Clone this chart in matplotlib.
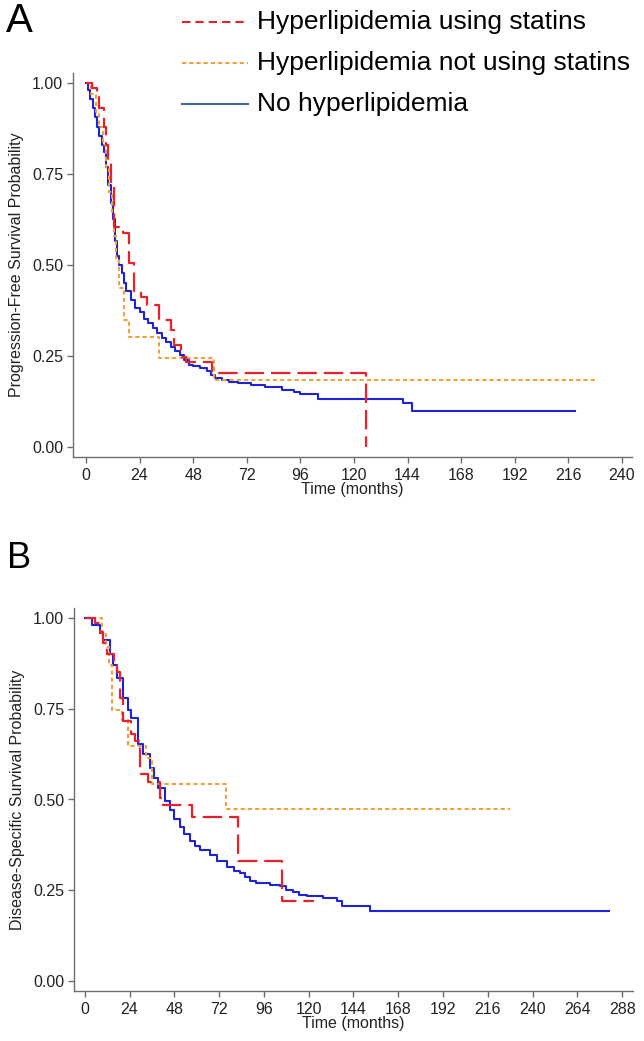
import numpy as np
import matplotlib
matplotlib.use("Agg")
import matplotlib.pyplot as plt
from matplotlib.lines import Line2D

plt.rcParams['font.family'] = ['Liberation Sans', 'DejaVu Sans']
plt.rcParams['lines.scale_dashes'] = False

# ---- panel A : progression-free survival (months, probability) ----
a_statin_t = [0, 2.5, 5, 6, 8, 9, 10, 11, 12.5, 16.5, 19.2, 21.5, 24.6, 27.5, 32.8, 38, 39.5, 42.5, 44.7, 56.6, 125.6]
a_statin_s = [1.0, 0.986, 0.96, 0.93, 0.88, 0.83, 0.78, 0.72, 0.604, 0.588, 0.505, 0.43, 0.412, 0.39, 0.349, 0.321, 0.28, 0.247, 0.233, 0.203, 0.0]
a_statin_end = 125.6

a_nostatin_t = [0, 2.2, 4.5, 6, 7.5, 9, 10.5, 11.5, 12.5, 13.5, 14.7, 17, 19.2, 32.8, 57.2]
a_nostatin_s = [1.0, 0.97, 0.92, 0.88, 0.83, 0.77, 0.70, 0.64, 0.58, 0.52, 0.436, 0.349, 0.302, 0.244, 0.184]
a_nostatin_end = 228

a_nohl_t = [0, 1, 2, 3, 4, 5, 6, 7, 8, 9, 10, 11, 12, 13, 14, 15, 16, 17, 18, 20, 22, 24, 26, 28,
            30, 32, 34, 36, 38, 40, 42, 44, 46, 48, 51, 54, 56, 58, 61, 64, 68, 74, 80, 88, 93,
            96, 104, 142, 146]
a_nohl_s = [1.0, 0.98, 0.955, 0.93, 0.905, 0.88, 0.855, 0.83, 0.81, 0.77, 0.72, 0.67, 0.625, 0.565,
            0.525, 0.5, 0.478, 0.45, 0.43, 0.405, 0.383, 0.37, 0.352, 0.34, 0.328, 0.313, 0.3,
            0.288, 0.276, 0.264, 0.252, 0.238, 0.226, 0.222, 0.218, 0.208, 0.198, 0.19, 0.183,
            0.178, 0.175, 0.17, 0.165, 0.157, 0.152, 0.146, 0.132, 0.121, 0.10]
a_nohl_end = 219

# ---- panel B : disease-specific survival ----
b_statin_t = [0, 5.4, 8, 10, 12, 15.5, 17, 19, 20.4, 25, 27, 29.5, 33.8, 40.5, 42, 57.4, 82, 105.6]
b_statin_s = [1.0, 0.986, 0.96, 0.93, 0.90, 0.868, 0.85, 0.78, 0.717, 0.68, 0.66, 0.571, 0.547, 0.505, 0.484, 0.453, 0.332, 0.222]
b_statin_end = 123

b_nostatin_t = [0, 9, 11.5, 13, 14.5, 19.8, 23, 33, 36, 75.8]
b_nostatin_s = [1.0, 0.956, 0.92, 0.87, 0.745, 0.72, 0.648, 0.615, 0.544, 0.475]
b_nostatin_end = 228

b_nohl_t = [0, 4, 8, 10, 13.4, 15, 17, 20.4, 23, 25, 28.6, 31, 34.9, 37, 39.3, 42.9, 45.6, 48, 50.9,
            53, 56.3, 59, 61.7, 67, 71, 76, 80, 83, 86, 88.5, 92, 99, 104.6, 108, 111.5, 115, 119,
            127.6, 135, 137.8, 153]
b_nohl_s = [1.0, 0.98, 0.959, 0.94, 0.90, 0.87, 0.835, 0.78, 0.745, 0.725, 0.654, 0.625, 0.588, 0.56,
            0.533, 0.497, 0.47, 0.446, 0.423, 0.405, 0.387, 0.372, 0.36, 0.346, 0.33, 0.313, 0.303,
            0.297, 0.286, 0.277, 0.27, 0.266, 0.261, 0.25, 0.245, 0.236, 0.234, 0.228, 0.221, 0.206, 0.192]
b_nohl_end = 281

labels = ["Hyperlipidemia using statins", "Hyperlipidemia not using statins", "No hyperlipidemia"]
c_red = '#E8222A'
c_orange = '#EFA23C'
c_blue = '#1E22D8'
c_blue_leg = '#4563AE'
spine_col = '#6E6E6E'
txt_col = '#222222'

W, H = 644, 1041
fig = plt.figure(figsize=(W / 100, H / 100), dpi=100)
axA = fig.add_axes([73 / W, 1 - 457 / H, (632 - 73) / W, (457 - 73) / H])
axB = fig.add_axes([74 / W, 1 - 991 / H, (633 - 74) / W, (991 - 608) / H])


def km(ax, t, s, end, color, lw, dashes):
    tt = list(t) + [end]
    ss = list(s) + [s[-1]]
    line, = ax.step(tt, ss, where='post', color=color, lw=lw)
    if dashes is not None:
        line.set_dashes(dashes)
    return line


def style(ax, xmax, ylabel, xticks):
    for sp in ['top', 'right']:
        ax.spines[sp].set_visible(False)
    for sp in ['left', 'bottom']:
        ax.spines[sp].set_color(spine_col)
        ax.spines[sp].set_linewidth(1.0)
    ax.set_xlim(-5.8, xmax)
    ax.set_ylim(-0.027, 1.027)
    ax.set_xticks(xticks)
    ax.set_yticks([0, 0.25, 0.5, 0.75, 1.0])
    ax.set_yticklabels(["%.2f" % v for v in [0, 0.25, 0.5, 0.75, 1.0]])
    ax.tick_params(colors=spine_col, labelcolor=txt_col, length=4, width=1.0, labelsize=11.5)
    ax.tick_params(axis='x', pad=4)
    ax.tick_params(axis='y', pad=3)
    ax.set_xlabel("Time (months)", fontsize=11.5, color=txt_col, labelpad=-1)
    ax.set_ylabel(ylabel, fontsize=11.5, color=txt_col, labelpad=6)


km(axA, a_nohl_t, a_nohl_s, a_nohl_end, c_blue, 1.5, None)
km(axA, a_nostatin_t, a_nostatin_s, a_nostatin_end, c_orange, 1.5, (3, 2.2))
km(axA, a_statin_t, a_statin_s, a_statin_end, c_red, 1.6, (14, 5))
style(axA, 244.5, "Progression-Free Survival Probability", np.arange(0, 241, 24))

km(axB, b_nohl_t, b_nohl_s, b_nohl_end, c_blue, 1.5, None)
km(axB, b_nostatin_t, b_nostatin_s, b_nostatin_end, c_orange, 1.5, (3, 2.2))
km(axB, b_statin_t, b_statin_s, b_statin_end, c_red, 1.6, (14, 5))
style(axB, 293.8, "Disease-Specific Survival Probability", np.arange(0, 289, 24))

# panel letters
fig.text(6 / W, 1 - 2 / H, "A", fontsize=29, va='top', ha='left', color='black')
fig.text(7 / W, 1 - 541 / H, "B", fontsize=26, va='top', ha='left', color='black')

# legend (top right)
leg_cols = [c_red, c_orange, c_blue_leg]
leg_dash = [(6, 3.6), (3, 2.2), None]
leg_y = [22, 63, 104]
for lab, col, d, y in zip(labels, leg_cols, leg_dash, leg_y):
    ln = Line2D([182 / W, 248 / W], [1 - y / H, 1 - y / H], transform=fig.transFigure,
                color=col, lw=1.5)
    if d is not None:
        ln.set_dashes(d)
    fig.add_artist(ln)
    fig.text(257 / W, 1 - y / H, lab, fontsize=19, va='center', ha='left', color='black')

fig.savefig("out.png", dpi=100)
